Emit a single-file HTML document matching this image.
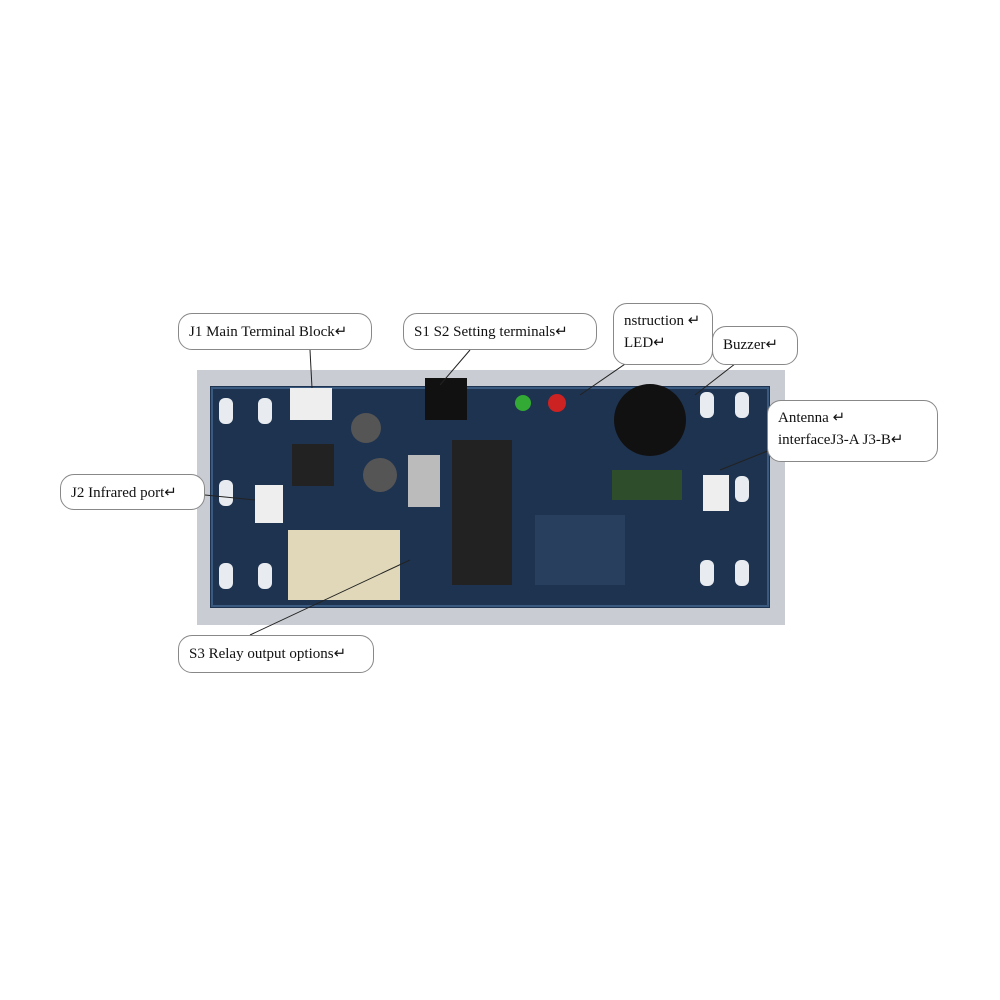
<!DOCTYPE html>
<html><head><meta charset="utf-8"><style>
body{margin:0;width:1000px;height:1000px;background:#fff;position:relative;overflow:hidden;font-family:"Liberation Serif",serif;}
.c{position:absolute;background:#fff;border:1.5px solid #888;border-radius:14px;font-size:15px;color:#111;box-sizing:border-box;padding:6px 10px;line-height:24px;}
.a{position:absolute;}
</style></head><body>
<div class="a" style="left:197px;top:370px;width:588px;height:255px;background:#c9ccd2"></div>
<svg class="a" style="left:0;top:0" width="1000" height="1000">
<rect x="210" y="386" width="560" height="222" fill="#1e3350"/>
<rect x="212" y="388" width="556" height="218" fill="none" stroke="#3b5a80" stroke-width="2"/>
<g fill="#e8ecf0"><rect x="219" y="398" width="14" height="26" rx="6"/><rect x="219" y="480" width="14" height="26" rx="6"/><rect x="219" y="563" width="14" height="26" rx="6"/>
<rect x="258" y="398" width="14" height="26" rx="6"/><rect x="258" y="563" width="14" height="26" rx="6"/>
<rect x="700" y="392" width="14" height="26" rx="6"/><rect x="735" y="392" width="14" height="26" rx="6"/><rect x="735" y="476" width="14" height="26" rx="6"/><rect x="700" y="560" width="14" height="26" rx="6"/><rect x="735" y="560" width="14" height="26" rx="6"/></g>
<rect x="290" y="388" width="42" height="32" fill="#eee"/>
<rect x="255" y="485" width="28" height="38" fill="#eee"/>
<rect x="703" y="475" width="26" height="36" fill="#eee"/>
<rect x="288" y="530" width="112" height="70" fill="#e0d8b8"/>
<rect x="292" y="444" width="42" height="42" fill="#222"/>
<circle cx="366" cy="428" r="15" fill="#555"/><circle cx="380" cy="475" r="17" fill="#555"/>
<rect x="408" y="455" width="32" height="52" fill="#bbb"/>
<rect x="452" y="440" width="60" height="145" fill="#222"/>
<rect x="425" y="378" width="42" height="42" fill="#111"/>
<circle cx="650" cy="420" r="36" fill="#111"/>
<rect x="612" y="470" width="70" height="30" fill="#2e4d2a"/>
<circle cx="523" cy="403" r="8" fill="#3a3"/><circle cx="557" cy="403" r="9" fill="#c22"/>
<rect x="535" y="515" width="90" height="70" fill="#28405e"/>
<g stroke="#222" stroke-width="1" fill="none">
<line x1="310" y1="350" x2="312" y2="388"/><line x1="470" y1="350" x2="440" y2="385"/>
<line x1="660" y1="340" x2="580" y2="395"/><line x1="740" y1="360" x2="695" y2="395"/>
<line x1="770" y1="450" x2="720" y2="470"/><line x1="205" y1="495" x2="255" y2="500"/>
<line x1="250" y1="635" x2="410" y2="560"/></g>
</svg>
<div class="c" style="left:178px;top:313px;width:194px;height:37px;">J1 Main Terminal Block↵</div>
<div class="c" style="left:403px;top:313px;width:194px;height:37px;">S1 S2 Setting terminals↵</div>
<div class="c" style="left:613px;top:303px;width:100px;height:62px;line-height:22px;">nstruction ↵<br>LED↵</div>
<div class="c" style="left:712px;top:326px;width:86px;height:39px;">Buzzer↵</div>
<div class="c" style="left:767px;top:400px;width:171px;height:62px;line-height:22px;">Antenna ↵<br>interfaceJ3-A J3-B↵</div>
<div class="c" style="left:60px;top:474px;width:145px;height:36px;">J2 Infrared port↵</div>
<div class="c" style="left:178px;top:635px;width:196px;height:38px;">S3 Relay output options↵</div>
</body></html>
